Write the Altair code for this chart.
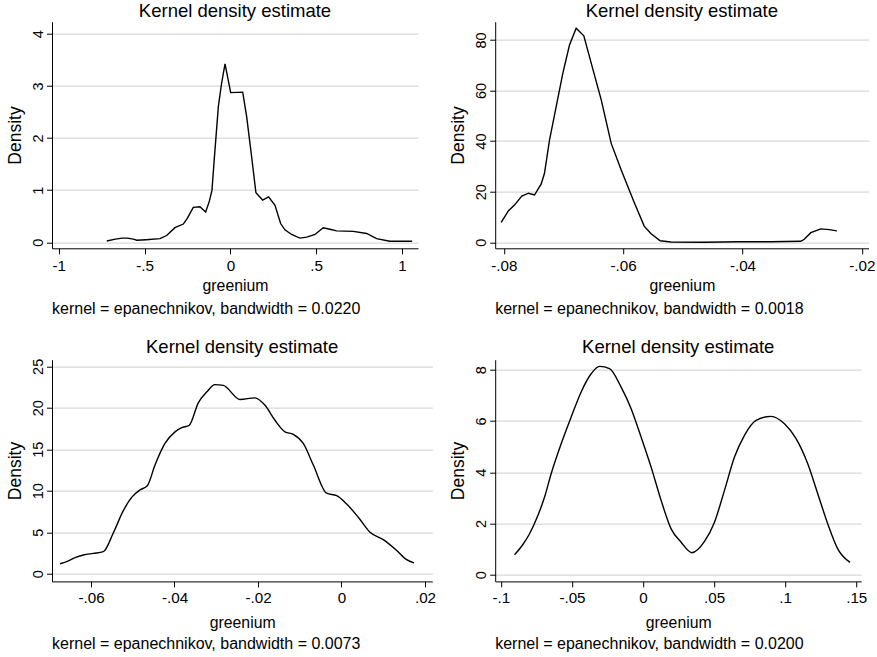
import altair as alt
import pandas as pd

FONT = "Liberation Sans"

# ---------------- data ----------------
p1_x = [-0.720, -0.670, -0.630, -0.600, -0.565, -0.545, -0.490, -0.410, -0.371, -0.323,
        -0.274, -0.251, -0.216, -0.177, -0.144, -0.123, -0.107, -0.094, -0.070, -0.051,
        -0.031, 0.002, 0.072, 0.095, 0.124, 0.149, 0.188, 0.223, 0.260, 0.293,
        0.318, 0.357, 0.405, 0.445, 0.493, 0.541, 0.580, 0.619, 0.716, 0.794,
        0.852, 0.929, 1.059]
p1_y = [0.025, 0.06, 0.08, 0.08, 0.06, 0.04, 0.05, 0.07, 0.13, 0.28,
        0.35, 0.46, 0.67, 0.68, 0.58, 0.78, 1.00, 1.58, 2.60, 3.05,
        3.42, 2.87, 2.88, 2.41, 1.64, 0.95, 0.81, 0.87, 0.71, 0.36,
        0.24, 0.15, 0.08, 0.10, 0.15, 0.28, 0.25, 0.22, 0.21, 0.17,
        0.07, 0.02, 0.02]

p2_x = [-0.08044, -0.07921, -0.07821, -0.07698, -0.07586, -0.07485, -0.07373, -0.07318,
        -0.07234, -0.07122, -0.07011, -0.06899, -0.06787, -0.06659, -0.06535, -0.06367,
        -0.06200, -0.06032, -0.05821, -0.05647, -0.05536, -0.05379, -0.05201, -0.04641,
        -0.04083, -0.03524, -0.03022, -0.02965, -0.02854, -0.02687, -0.02545, -0.02418]
p2_y = [7.9, 12.5, 14.7, 18.3, 19.4, 18.7, 23.1, 27.3,
        40.4, 53.6, 66.8, 78.0, 84.6, 81.6, 70.8, 56.3,
        39.1, 28.6, 16.1, 6.4, 3.5, 0.6, 0.1, 0.0,
        0.2, 0.2, 0.4, 1.2, 3.8, 5.3, 5.0, 4.5]

p3_x = [-0.06742, -0.06582, -0.06383, -0.06184, -0.05945, -0.05705, -0.05466, -0.05226,
        -0.05026, -0.04826, -0.04651, -0.04467, -0.04228, -0.03988, -0.03828, -0.03646,
        -0.03430, -0.03229, -0.03030, -0.02831, -0.02431, -0.02072, -0.01832, -0.01593,
        -0.01353, -0.01154, -0.00915, -0.00675, -0.00355, -0.00115, 0.00124, 0.00403,
        0.00683, 0.01001, 0.01322, 0.01561, 0.01737]
p3_y = [1.2, 1.45, 1.93, 2.25, 2.45, 2.65, 4.9, 7.6,
        9.2, 10.1, 10.6, 13.1, 15.7, 17.1, 17.6, 17.9,
        20.6, 21.9, 22.8, 22.7, 21.0, 21.2, 20.3, 18.5,
        17.1, 16.8, 15.7, 13.1, 9.7, 9.4, 8.4, 6.8,
        5.0, 4.1, 2.8, 1.7, 1.3]

p4_x = [-0.09037, -0.08453, -0.07982, -0.07398, -0.06927, -0.06463, -0.05759, -0.05056,
        -0.04353, -0.03650, -0.03059, -0.02356, -0.01540, -0.00837, -0.00134, 0.00570,
        0.01273, 0.01977, 0.02680, 0.03432, 0.04325, 0.05028, 0.05731, 0.06435,
        0.07138, 0.07954, 0.09008, 0.09951, 0.10767, 0.11589, 0.12293, 0.12996,
        0.13699, 0.14567]
p4_y = [0.78, 1.18, 1.60, 2.31, 3.03, 3.94, 5.11, 6.15,
        7.13, 7.84, 8.13, 8.04, 7.32, 6.48, 5.37, 4.20,
        2.90, 1.79, 1.27, 0.86, 1.30, 2.05, 3.29, 4.59,
        5.44, 6.02, 6.18, 5.89, 5.31, 4.33, 3.16, 1.99,
        1.01, 0.48]

p1_xticks = [-1, -0.5, 0, 0.5, 1]
p1_xlabels = ["-1", "-.5", "0", ".5", "1"]
p1_yticks = [0, 1, 2, 3, 4]
p1_ylabels = ["0", "1", "2", "3", "4"]

p2_xticks = [-0.08, -0.06, -0.04, -0.02]
p2_xlabels = ["-.08", "-.06", "-.04", "-.02"]
p2_yticks = [0, 20, 40, 60, 80]
p2_ylabels = ["0", "20", "40", "60", "80"]

p3_xticks = [-0.06, -0.04, -0.02, 0, 0.02]
p3_xlabels = ["-.06", "-.04", "-.02", "0", ".02"]
p3_yticks = [0, 5, 10, 15, 20, 25]
p3_ylabels = ["0", "5", "10", "15", "20", "25"]

p4_xticks = [-0.1, -0.05, 0, 0.05, 0.1, 0.15]
p4_xlabels = ["-.1", "-.05", "0", ".05", ".1", ".15"]
p4_yticks = [0, 2, 4, 6, 8]
p4_ylabels = ["0", "2", "4", "6", "8"]

panel_title = "Kernel density estimate"
x_title = "greenium"
y_title = "Density"
notes = ["kernel = epanechnikov, bandwidth = 0.0220",
         "kernel = epanechnikov, bandwidth = 0.0018",
         "kernel = epanechnikov, bandwidth = 0.0073",
         "kernel = epanechnikov, bandwidth = 0.0200"]


def label_expr(vals, labs):
    expr = "''"
    for v, lab in reversed(list(zip(vals, labs))):
        expr = f"abs(datum.value - ({v})) < 1e-9 ? '{lab}' : ({expr})"
    return expr


def panel(xs, ys, xdom, ydom, xt, xl, yt, yl, note, w, h, interp,
          lab_pad, xtitle_y, note_y, title_y):
    df = pd.DataFrame({"greenium": xs, "Density": ys})
    line = alt.Chart(df).mark_line(color="black", strokeWidth=1.4,
                                   interpolate=interp).encode(
        x=alt.X("greenium:Q",
                scale=alt.Scale(domain=xdom, nice=False, zero=False),
                axis=alt.Axis(values=xt, labelExpr=label_expr(xt, xl), grid=False,
                              title=x_title, titleX=w / 2, titleY=xtitle_y,
                              titleAlign="center", titleBaseline="alphabetic",
                              titleFont=FONT, titleFontSize=15.8,
                              titleFontWeight="normal", titleColor="black",
                              labelFont=FONT, labelFontSize=15.2, labelColor="black",
                              labelBaseline="alphabetic", labelPadding=lab_pad,
                              labelFlush=False, labelOverlap=False,
                              tickSize=5.5, tickColor="black", tickWidth=1,
                              domainColor="black", domainWidth=1)),
        y=alt.Y("Density:Q",
                scale=alt.Scale(domain=ydom, nice=False, zero=False),
                axis=alt.Axis(values=yt, labelExpr=label_expr(yt, yl), grid=True,
                              gridColor="#d9d9d9", gridWidth=1.3,
                              title=y_title, titleX=-31.5, titleY=h / 2,
                              titleAngle=270, titleAlign="center",
                              titleBaseline="alphabetic",
                              titleFont=FONT, titleFontSize=17.5,
                              titleFontWeight="normal", titleColor="black",
                              labelFont=FONT, labelFontSize=14.5, labelColor="black",
                              labelAngle=270, labelAlign="center",
                              labelBaseline="alphabetic", labelPadding=4,
                              labelFlush=False, labelOverlap=False,
                              tickSize=5.5, tickColor="black", tickWidth=1,
                              domainColor="black", domainWidth=1)),
    )
    txt = alt.Chart(pd.DataFrame({"note": [note]})).mark_text(
        align="left", baseline="alphabetic", font=FONT, fontSize=16, color="black"
    ).encode(x=alt.value(0), y=alt.value(h + note_y), text="note:N")
    ttl = alt.Chart(pd.DataFrame({"title": [panel_title]})).mark_text(
        align="center", baseline="alphabetic", font=FONT, fontSize=18.5, color="black"
    ).encode(x=alt.value(w / 2), y=alt.value(title_y), text="title:N")
    return alt.layer(line, txt, ttl).properties(width=w, height=h)


H1 = 226.6
H2 = 221.7

c1 = panel(p1_x, p1_y, [-1.039, 1.0932], [-0.115, 4.230], p1_xticks, p1_xlabels,
           p1_yticks, p1_ylabels, notes[0], 366, H1, "linear", 16.5, 41.7, 65.7, -5)
c2 = panel(p2_x, p2_y, [-0.08144, -0.01888], [-2.37, 87.2], p2_xticks, p2_xlabels,
           p2_yticks, p2_ylabels, notes[1], 373.3, H1, "linear", 16.5, 41.7, 65.7, -5)
c3 = panel(p3_x, p3_y, [-0.06934, 0.02175], [-0.93, 25.80], p3_xticks, p3_xlabels,
           p3_yticks, p3_ylabels, notes[2], 380.3, H2, "monotone", 15.8, 46, 68, -7)
c4 = panel(p4_x, p4_y, [-0.104, 0.1535], [-0.26, 8.39], p4_xticks, p4_xlabels,
           p4_yticks, p4_ylabels, notes[3], 366, H2, "monotone", 15.8, 46, 68, -7)

chart = alt.concat(c1, c2, c3, c4, columns=2,
                   spacing={"row": 111, "column": 62.2}, bounds="flush").properties(
    autosize=alt.AutoSizeParams(type="none"),
    padding={"left": 52, "top": 21.7, "right": 825, "bottom": 635.3},
    background="white",
).configure_view(stroke=None)

chart.save("out.html", embed_options={"renderer": "svg", "actions": False})
